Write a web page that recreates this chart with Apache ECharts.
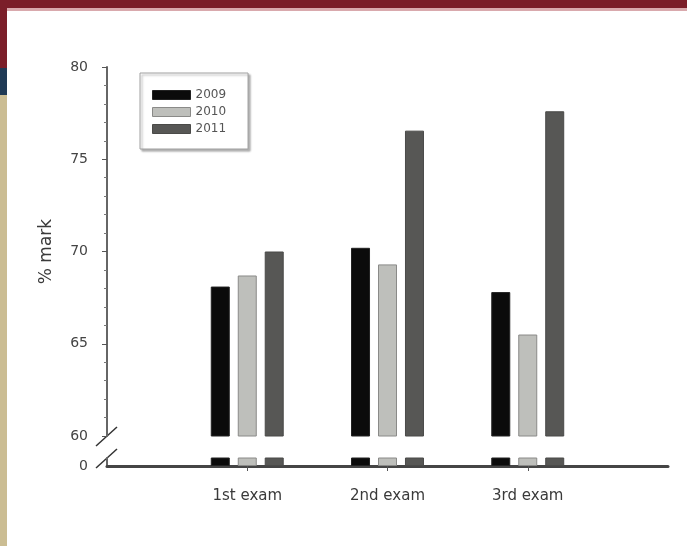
<!DOCTYPE html>
<html>
<head>
<meta charset="utf-8">
<script src="https://cdn.jsdelivr.net/npm/echarts@6/dist/echarts.min.js"></script>
<style>html,body{margin:0;padding:0;background:#fff}#c{width:687px;height:546px}</style>
</head>
<body>
<div id="c"></div>
<script>
var categories = ['1st exam', '2nd exam', '3rd exam'];
var years = ['2009', '2010', '2011'];
var v2009 = [68.1, 70.2, 67.8];
var v2010 = [68.7, 69.3, 65.5];
var v2011 = [70.0, 76.55, 77.6];
var yTicksUpper = [60, 65, 70, 75, 80];

var colors = ['#0b0b0b', '#bebfbb', '#575755'];
var borders = ['#222', '#8a8a88', '#4a4a48'];
var seriesVals = [v2009, v2010, v2011];
var axisCats = [''].concat(categories, ['']);
function pad(a) { return [null].concat(a, [null]); }

var chart = echarts.init(document.getElementById('c'), null, {renderer: 'canvas'});
var font = 'DejaVu Sans, Verdana, sans-serif';
var series = [];
seriesVals.forEach(function (vals, i) {
  [0, 1].forEach(function (g) {
    series.push({
      name: years[i], type: 'bar', xAxisIndex: g, yAxisIndex: g,
      data: pad(vals), barWidth: 19, barGap: '42%', clip: true,
      itemStyle: {color: colors[i], borderColor: borders[i], borderWidth: 1}
    });
  });
});

var option = {
  animation: false,
  backgroundColor: '#fff',
  legend: {
    data: years, orient: 'vertical', left: 140, top: 73, icon: 'rect',
    padding: [16, 22, 14, 12], itemGap: 5, itemWidth: 38, itemHeight: 9,
    borderColor: '#a0a0a0', borderWidth: 1, backgroundColor: '#fff',
    shadowColor: 'rgba(0,0,0,0.3)', shadowOffsetX: 2, shadowOffsetY: 2, shadowBlur: 2,
    textStyle: {fontFamily: font, fontSize: 12, color: '#555'},
    itemStyle: {borderWidth: 1}
  },
  grid: [
    {left: 107, right: 19, top: 67, height: 369},
    {left: 107, right: 19, top: 458, height: 8}
  ],
  xAxis: [
    {type: 'category', gridIndex: 0, data: axisCats, boundaryGap: false,
     axisLine: {show: false}, axisTick: {show: false}, axisLabel: {show: false}, splitLine: {show: false}},
    {type: 'category', gridIndex: 1, data: axisCats, boundaryGap: false,
     axisLine: {lineStyle: {color: '#454545', width: 3}},
     axisTick: {show: true, length: 5, lineStyle: {color: '#555', width: 1},
       interval: function (idx, val) { return val !== ''; }},
     axisLabel: {fontFamily: font, fontSize: 15, color: '#3a3a3a', margin: 23,
       interval: function (idx, val) { return val !== ''; }}}
  ],
  yAxis: [
    {type: 'value', gridIndex: 0, min: 60, max: 80, interval: 5,
     name: '% mark', nameLocation: 'middle', nameGap: 52, nameRotate: 90,
     nameTextStyle: {fontFamily: font, fontSize: 17, color: '#3a3a3a'},
     axisLine: {show: true, lineStyle: {color: '#666', width: 2}},
     axisTick: {show: true, length: 5, lineStyle: {color: '#555'}},
     minorTick: {show: true, splitNumber: 5, length: 3, lineStyle: {color: '#777'}},
     axisLabel: {fontFamily: font, fontSize: 14, color: '#444', margin: 19,
       formatter: function (v) { return yTicksUpper.indexOf(v) >= 0 ? String(v) : ''; }},
     splitLine: {show: false}},
    {type: 'value', gridIndex: 1, min: 0, max: 60, interval: 60,
     axisLine: {show: true, lineStyle: {color: '#666', width: 2}},
     axisTick: {show: false},
     axisLabel: {fontFamily: font, fontSize: 14, color: '#444', margin: 19,
       formatter: function (v) { return v === 0 ? '0' : ''; }},
     splitLine: {show: false}}
  ],
  series: series
};
chart.setOption(option);

// frame decoration and axis-break slashes positioned from the axes
var p60 = chart.convertToPixel({xAxisIndex: 0, yAxisIndex: 0}, [0, 60]);
var p0 = chart.convertToPixel({xAxisIndex: 1, yAxisIndex: 1}, [0, 60]);
chart.setOption({
  graphic: [
    {type: 'rect', shape: {x: 0, y: 0, width: 687, height: 8}, style: {fill: '#7b1e29'}},
    {type: 'rect', shape: {x: 0, y: 8, width: 687, height: 3}, style: {fill: '#d9a9ad'}},
    {type: 'rect', shape: {x: 0, y: 0, width: 7, height: 68}, style: {fill: '#7b1e29'}},
    {type: 'rect', shape: {x: 0, y: 68, width: 7, height: 27}, style: {fill: '#1f3a55'}},
    {type: 'rect', shape: {x: 0, y: 95, width: 7, height: 451}, style: {fill: '#cbbd93'}},
    {type: 'line', shape: {x1: p60[0] - 11, y1: p60[1] + 10, x2: p60[0] + 10, y2: p60[1] - 9},
     style: {stroke: '#333', lineWidth: 1.5}},
    {type: 'line', shape: {x1: p0[0] - 11, y1: p0[1] + 10, x2: p0[0] + 10, y2: p0[1] - 9},
     style: {stroke: '#333', lineWidth: 1.5}}
  ]
});
</script>
</body>
</html>
